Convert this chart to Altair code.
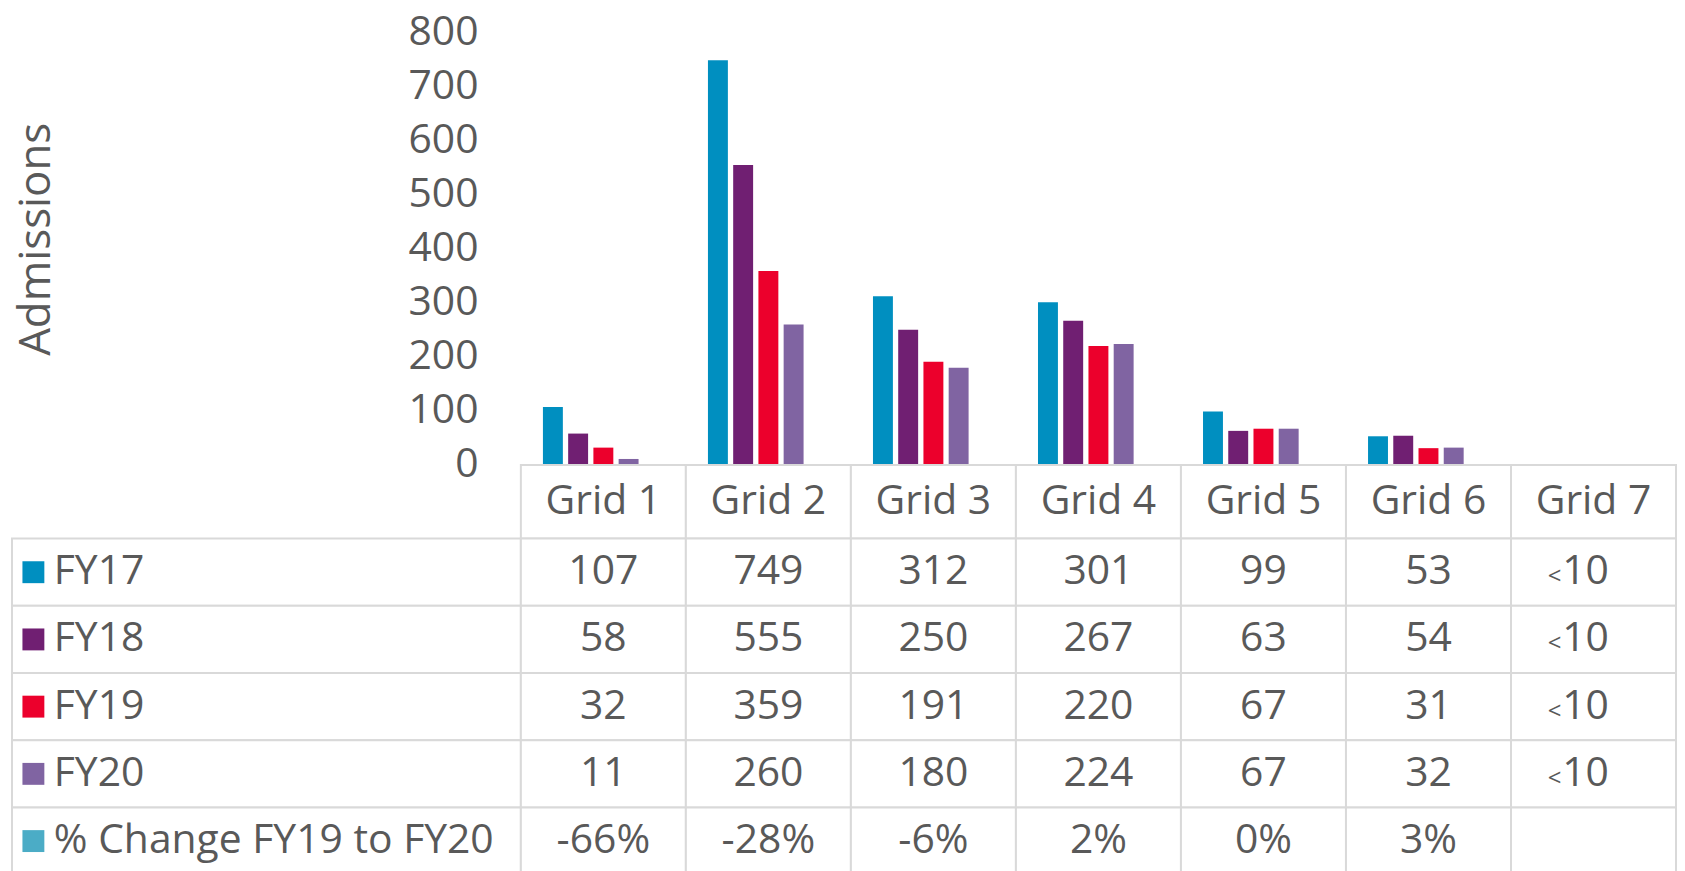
import altair as alt
import pandas as pd

# ---------------- data ----------------
categories = ["Grid 1", "Grid 2", "Grid 3", "Grid 4", "Grid 5", "Grid 6", "Grid 7"]
series = ["FY17", "FY18", "FY19", "FY20", "% Change FY19 to FY20"]
colors = ["#008FC0", "#701F72", "#EC002C", "#8064A2", "#4BACC6"]

fy17 = [107, 749, 312, 301, 99, 53, None]
fy18 = [58, 555, 250, 267, 63, 54, None]
fy19 = [32, 359, 191, 220, 67, 31, None]
fy20 = [11, 260, 180, 224, 67, 32, None]
pct_change = [-66, -28, -6, 2, 0, 3, None]
suppressed_label = "<10"

y_ticks = [0, 100, 200, 300, 400, 500, 600, 700, 800]

FONT = "Open Sans"
TXT = "#595959"
BORDER = "#D9D9D9"
FS = 41

# ---------------- tables ----------------
bar_rows = []
for name, vals in zip(series[:4], [fy17, fy18, fy19, fy20]):
    for g, v in zip(categories, vals):
        if v is not None:
            bar_rows.append({"grid": g, "series": name, "value": v})
bar_df = pd.DataFrame(bar_rows)

tab_rows = []
for name, vals in zip(series[:4], [fy17, fy18, fy19, fy20]):
    for g, v in zip(categories, vals):
        if v is None:
            tab_rows.append({"grid": g, "row": name, "main": suppressed_label[1:], "prefix": suppressed_label[0]})
        else:
            tab_rows.append({"grid": g, "row": name, "main": str(v), "prefix": ""})
for g, v in zip(categories, pct_change):
    tab_rows.append({"grid": g, "row": series[4], "main": "" if v is None else f"{v}%", "prefix": ""})
tab_df = pd.DataFrame(tab_rows)

head_df = pd.DataFrame({"grid": categories, "hrow": ["h"] * len(categories)})
leg_df = pd.DataFrame({"row": series, "series": series})

W_LEFT, W_MAIN = 511, 1160
H_PLOT, H_HEAD, H_TAB = 434, 74, 337.5

xs = alt.Scale(domain=categories, paddingInner=0, paddingOuter=0)
rows_scale = alt.Scale(domain=series, paddingInner=0, paddingOuter=0)
color_scale = alt.Scale(domain=series, range=colors)

# ---------------- bars ----------------
bars = alt.Chart(bar_df).mark_bar().encode(
    x=alt.X("grid:N", scale=xs, axis=None),
    xOffset=alt.XOffset("series:N", scale=alt.Scale(domain=series, paddingInner=0.21, paddingOuter=0.875)),
    y=alt.Y("value:Q", scale=alt.Scale(domain=[0, 800], nice=False),
            axis=alt.Axis(values=y_ticks, title="Admissions", grid=False, domain=False, ticks=False,
                          labelPadding=43, labelFontSize=FS, labelColor=TXT, labelFont=FONT,
                          titleFontSize=44, titleFont=FONT, titleColor=TXT, titleFontWeight="normal",
                          titleAngle=270, titleX=-473, titleY=207, titleAlign="center",
                          titleBaseline="alphabetic")),
    color=alt.Color("series:N", scale=color_scale, legend=None),
).properties(width=W_MAIN, height=H_PLOT)

blank = pd.DataFrame({"a": [0]})
top_left = alt.Chart(blank).mark_point(opacity=0, size=1).encode(
    x=alt.value(200), y=alt.value(200)).properties(width=W_LEFT, height=H_PLOT)
head_left = alt.Chart(blank).mark_point(opacity=0, size=1).encode(
    x=alt.value(200), y=alt.value(30)).properties(width=W_LEFT, height=H_HEAD)

# ---------------- header row ----------------
hy = alt.Y("hrow:N", axis=None, scale=alt.Scale(paddingInner=0, paddingOuter=0))
head_base = alt.Chart(head_df).encode(x=alt.X("grid:N", scale=xs, axis=None), y=hy)
header = alt.layer(
    head_base.mark_rect(fill="white", stroke=BORDER, strokeWidth=2),
    head_base.mark_text(font=FONT, fontSize=FS, color=TXT, baseline="middle").encode(text="grid:N"),
).properties(width=W_MAIN, height=H_HEAD)

# ---------------- value table ----------------
ty = alt.Y("row:N", axis=None, scale=rows_scale)
tab_base = alt.Chart(tab_df).encode(x=alt.X("grid:N", scale=xs, axis=None), y=ty)
table = alt.layer(
    tab_base.mark_rect(fill="white", stroke=BORDER, strokeWidth=2),
    tab_base.transform_filter("datum.prefix == ''").mark_text(
        font=FONT, fontSize=FS, color=TXT, baseline="middle").encode(text="main:N"),
    tab_base.transform_filter("datum.prefix != ''").mark_text(
        font=FONT, fontSize=FS, color=TXT, baseline="middle", dx=-8).encode(text="main:N"),
    tab_base.transform_filter("datum.prefix != ''").mark_text(
        font=FONT, fontSize=24, color=TXT, baseline="middle", dx=-39, dy=5).encode(text="prefix:N"),
).properties(width=W_MAIN, height=H_TAB)

# ---------------- legend column ----------------
ly = alt.Y("row:N", axis=None, scale=rows_scale)
leg_base = alt.Chart(leg_df).encode(y=ly)
legend = alt.layer(
    leg_base.mark_rect(fill="white", stroke=BORDER, strokeWidth=2),
    leg_base.mark_square(size=484, opacity=1).encode(
        x=alt.value(21.5), color=alt.Color("series:N", scale=color_scale, legend=None)),
    leg_base.mark_text(font=FONT, fontSize=FS, color=TXT, align="left", baseline="middle").encode(
        x=alt.value(42), text="row:N"),
).properties(width=W_LEFT, height=H_TAB)

chart = alt.concat(
    top_left, bars, head_left, header, legend, table,
    columns=2, spacing=0, bounds="flush",
).properties(
    padding={"left": 3, "top": 2, "right": 0, "bottom": 0}
).configure(font=FONT).configure_view(stroke=None)

chart.save("out.html", embed_options={"renderer": "svg", "actions": False})
